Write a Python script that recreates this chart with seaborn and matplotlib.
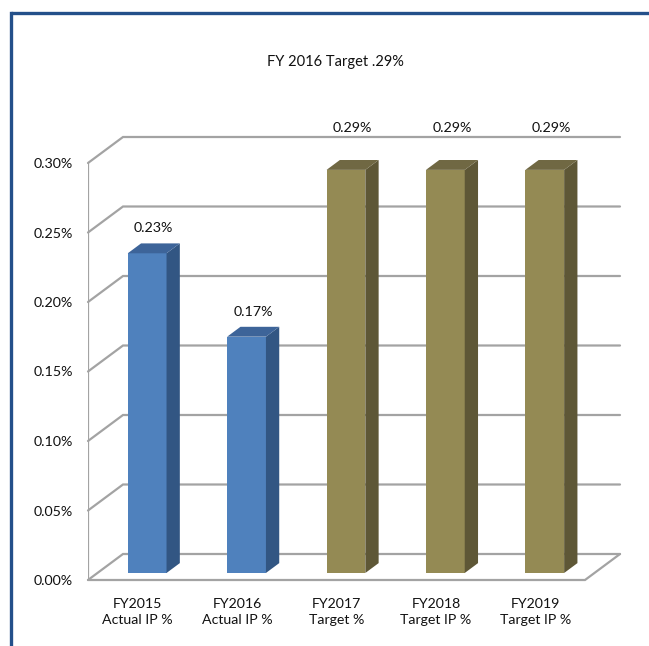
import matplotlib
matplotlib.use("Agg")
import matplotlib.pyplot as plt
import seaborn as sns
import numpy as np
from matplotlib.patches import Polygon
from matplotlib.lines import Line2D

# ---- data ----
categories = ["FY2015\nActual IP %", "FY2016\nActual IP %", "FY2017\nTarget %",
              "FY2018\nTarget IP %", "FY2019\nTarget IP %"]
values = [0.23, 0.17, 0.29, 0.29, 0.29]          # percent
tick_values = [0.00, 0.05, 0.10, 0.15, 0.20, 0.25, 0.30]
title = "FY 2016 Target .29%"

front_colors = ["#4F81BD", "#4F81BD", "#948A54", "#948A54", "#948A54"]
side_colors = ["#325683", "#325683", "#5E5736", "#5E5736", "#5E5736"]
top_colors = ["#3D6499", "#3D6499", "#706843", "#706843", "#706843"]

sns.set_style("white")
plt.rcParams["font.family"] = ["Lato", "DejaVu Sans"]

W, H = 649, 646
fig = plt.figure(figsize=(W / 100, H / 100), dpi=100)

# axes placement in pixels
px_per_cat = 99.4
px_per_unit = 1390.0  # pixels per 1 (percent)
x_left_px, y0_px = 88, 580
xmin, xmax = -0.5, 4.86
ymin, ymax = 0.0, 0.34
ax_w = (xmax - xmin) * px_per_cat
ax_h = (ymax - ymin) * px_per_unit
ax = fig.add_axes([x_left_px / W, (H - y0_px) / H, ax_w / W, ax_h / H])

sns.barplot(x=categories, y=values, hue=categories, palette=front_colors,
            width=0.39, legend=False, saturation=1, ax=ax, zorder=3)
ax.set_xlim(xmin, xmax)
ax.set_ylim(ymin, ymax)

# depth of the 3-D box
DX = 35 / px_per_cat
DY = 26 / px_per_unit
f0, f1 = 0.27, 0.65
grid_c = "#A3A3A3"
lw = 1.6
n = len(categories)
xl, xr = -0.5, n - 0.5
lab_c = "#111111"

# walls / gridlines
for v in tick_values:
    ax.plot([xl, xl + DX, xr + DX], [v, v + DY, v + DY], color=grid_c, lw=lw,
            zorder=1, solid_joinstyle="miter", clip_on=False)
ax.plot([xl, xl], [0, tick_values[-1]], color=grid_c, lw=lw, zorder=1)
ax.plot([xl, xr, xr + DX], [0, 0, DY], color=grid_c, lw=lw, zorder=4,
        solid_joinstyle="miter", clip_on=False)

# 3-D bars
for i, p in enumerate(ax.patches):
    p.set_x(p.get_x() + f0 * DX)
    p.set_y(f0 * DY)
    p.set_edgecolor("none")
    x0 = p.get_x(); x1 = x0 + p.get_width()
    yb = p.get_y(); yt = yb + p.get_height()
    ddx, ddy = (f1 - f0) * DX, (f1 - f0) * DY
    side = Polygon([(x1, yb), (x1 + ddx, yb + ddy), (x1 + ddx, yt + ddy), (x1, yt)],
                   closed=True, facecolor=side_colors[i], edgecolor="none", zorder=3)
    top = Polygon([(x0, yt), (x1, yt), (x1 + ddx, yt + ddy), (x0 + ddx, yt + ddy)],
                  closed=True, facecolor=top_colors[i], edgecolor="none", zorder=3)
    ax.add_patch(side)
    ax.add_patch(top)
    # value label
    ly = yt + ddy + 0.011
    top_grid = tick_values[-1] + DY
    if abs(ly - top_grid) < 0.015:
        ly = top_grid + 0.0065
    ax.text(x0 + p.get_width() / 2 + ddx / 2, ly, f"{values[i]:.2f}%",
            ha="center", va="center", fontsize=10.3, color=lab_c, zorder=5)

ax.set_yticks(tick_values)
ax.set_yticklabels([f"{v:.2f}%" for v in tick_values])
ax.set_xticks(range(n))
ax.set_xticklabels(categories, linespacing=1.4)
ax.tick_params(axis="y", length=0, pad=11, labelsize=10.3, labelcolor=lab_c)
ax.tick_params(axis="x", length=0, pad=13, labelsize=10.2, labelcolor=lab_c)
ax.set_xlabel(""); ax.set_ylabel("")
for s in ax.spines.values():
    s.set_visible(False)
ax.patch.set_alpha(0)

fig.text(335 / W, 1 - 62 / H, title, ha="center", va="center", fontsize=10.5, color=lab_c)

# outer frame (top and left edges)
frame_c = "#24508A"
fig.add_artist(Line2D([11 / W, 1.0], [1 - 13 / H, 1 - 13 / H], color=frame_c, lw=2.4,
                      transform=fig.transFigure, solid_capstyle="butt"))
fig.add_artist(Line2D([11 / W, 11 / W], [0, 1 - 13 / H], color=frame_c, lw=2.4,
                      transform=fig.transFigure, solid_capstyle="projecting"))

fig.savefig("out.png", dpi=100)
